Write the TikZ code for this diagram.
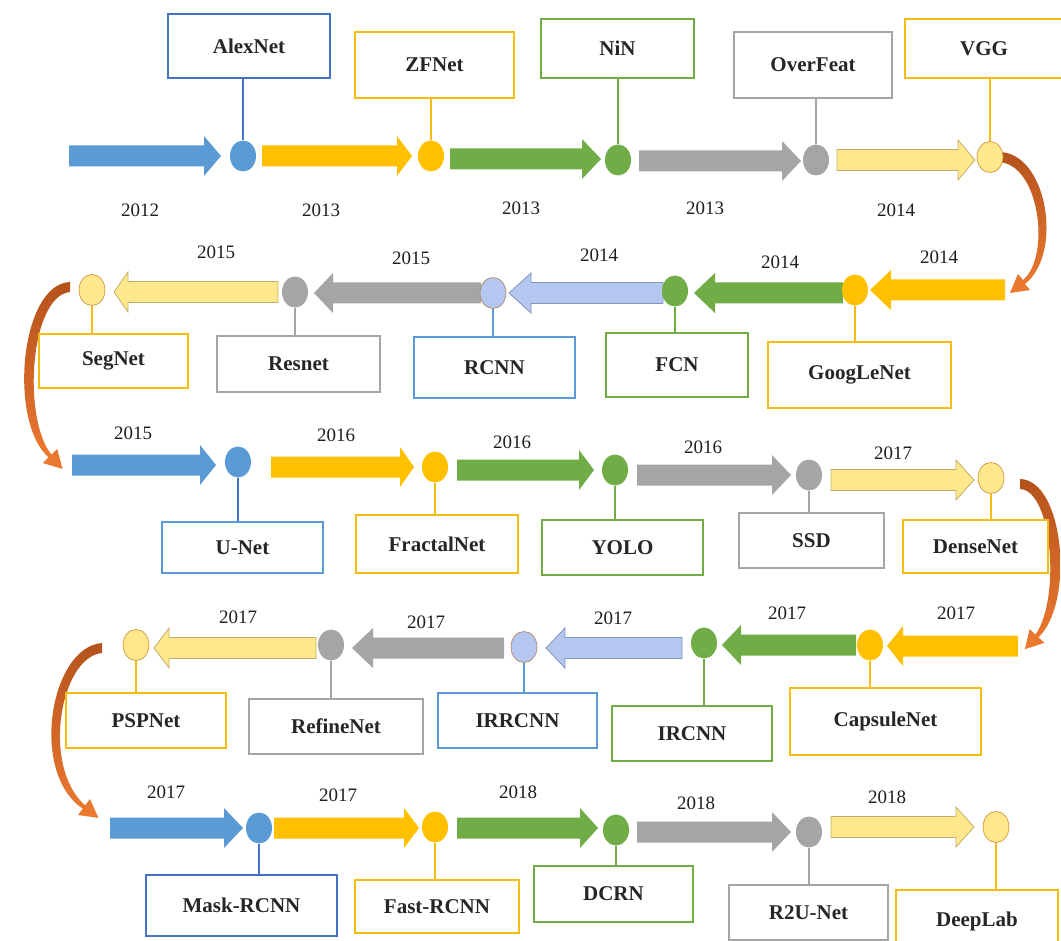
\documentclass[tikz,border=0pt]{standalone}
\usepackage{fontspec}
\setmainfont{Liberation Serif}
\usetikzlibrary{shapes.geometric}

\definecolor{cblue}{HTML}{5B9BD5}
\definecolor{cblueD}{HTML}{4472C4}
\definecolor{cgold}{HTML}{FFC000}
\definecolor{cgoldD}{HTML}{F5BC12}
\definecolor{cgreen}{HTML}{70AD47}
\definecolor{cgray}{HTML}{A5A5A5}
\definecolor{clyel}{HTML}{FFE88C}
\definecolor{clyelD}{HTML}{EDD060}
\definecolor{clblue}{HTML}{B4C7F0}
\definecolor{clblueD}{HTML}{8FAADC}
\definecolor{corangeD}{HTML}{B4521C}
\definecolor{corange}{HTML}{EE7A30}

\tikzset{
  netbox/.style={rectangle, draw=#1, line width=2.4pt, fill=white, inner sep=0pt,
    font=\fontsize{21}{24}\selectfont\bfseries, text=black!85},
  dot/.style={ellipse, inner sep=0pt, minimum width=26pt, minimum height=31pt, fill=#1},
  ldot/.style={dot=#1, draw=#1!70!black!60!orange, line width=0.7pt},
  stem/.style={draw=#1, line width=2.4pt},
  year/.style={font=\fontsize{19}{22}\selectfont, text=black!88},
  arr/.style={fill=#1},
  larr/.style={fill=#1, draw=#1!75!black, line width=0.8pt},
  turnarrow/.style={top color=corangeD, bottom color=corange, draw=none}
}

% box from x1..x2, y1..y2 (pixel units, y downwards)
\newcommand{\mkbox}[7]{%
  \pgfmathsetmacro{\bxw}{#4-#3}\pgfmathsetmacro{\bxh}{#6-#5}%
  \pgfmathsetmacro{\bxx}{(#3+#4)/2}\pgfmathsetmacro{\bxy}{(#5+#6)/2}%
  \node[netbox=#2, minimum width=\bxw pt, minimum height=\bxh pt] (#1) at (\bxx,\bxy) {#7};}

% block arrow: style, tail x, head base x, tip x, centre y
\newcommand{\blkarrow}[5]{%
  \path[#1] (#2,{#5-10.5}) -- (#3,{#5-10.5}) -- (#3,{#5-20}) -- (#4,#5)
    -- (#3,{#5+20}) -- (#3,{#5+10.5}) -- (#2,{#5+10.5}) -- cycle;}

\begin{document}
\begin{tikzpicture}[x=1pt, y=-1pt]
\useasboundingbox[fill=white] (0,0) rectangle (1061,941);

% ---------- curved turn arrows between rows ----------
\shade[turnarrow] (998,152) .. controls (1047,151) and (1064,253) .. (1025,284)
  -- (1030,290) -- (1010,293) -- (1018,274) -- (1023,280)
  .. controls (1051,257) and (1040,163) .. (998,162) -- cycle;
\shade[turnarrow] (70,282) .. controls (20,284) and (8,422) .. (48.6,457.4)
  -- (42.8,463) -- (62.6,469) -- (57.2,449) -- (51.4,454.6)
  .. controls (22,418) and (30,296) .. (70,292) -- cycle;
\shade[turnarrow] (1020,479) .. controls (1064,480) and (1075,602) .. (1038.5,637.4)
  -- (1044.4,642.8) -- (1024.8,649.3) -- (1029.6,629.2) -- (1035.5,634.6)
  .. controls (1061,598) and (1052,490) .. (1020,489) -- cycle;
\shade[turnarrow] (102,643) .. controls (50,647) and (29,773) .. (82.8,808.6)
  -- (78,815) -- (98.4,817.9) -- (90,799) -- (85.2,805.4)
  .. controls (41,767) and (60,657) .. (102,653) -- cycle;

% ---------- block arrows ----------
% row 1
\blkarrow{arr=cblue}{69}{204}{221}{156}
\blkarrow{arr=cgold}{262}{397}{412}{156}
\blkarrow{arr=cgreen}{450}{582}{601}{159}
\blkarrow{arr=cgray}{639}{782}{801}{161}
\blkarrow{larr=clyel}{837}{958}{975}{160}
% row 2
\blkarrow{arr=cgold}{1005}{891}{870}{290}
\blkarrow{arr=cgreen}{843}{715}{694}{293}
\blkarrow{larr=clblue}{663}{531}{509}{293}
\blkarrow{arr=cgray}{481}{333}{314}{293}
\blkarrow{larr=clyel}{278}{128}{114}{292}
% row 3
\blkarrow{arr=cblue}{72}{200}{216}{465}
\blkarrow{arr=cgold}{271}{400}{414}{467}
\blkarrow{arr=cgreen}{457}{579}{594}{470}
\blkarrow{arr=cgray}{637}{772}{791}{475}
\blkarrow{larr=clyel}{831}{956}{974}{480}
% row 4
\blkarrow{arr=cgold}{1018}{903}{887}{646}
\blkarrow{arr=cgreen}{856}{741}{722}{645}
\blkarrow{larr=clblue}{682}{565}{546}{648}
\blkarrow{arr=cgray}{504}{373}{352}{648}
\blkarrow{larr=clyel}{316}{169}{154}{648}
% row 5
\blkarrow{arr=cblue}{110}{224}{243}{828}
\blkarrow{arr=cgold}{274}{404}{419}{828}
\blkarrow{arr=cgreen}{457}{580}{598}{828}
\blkarrow{arr=cgray}{637}{772}{791}{832}
\blkarrow{larr=clyel}{831}{956}{974}{827}

% ---------- milestone dots ----------
\node[dot=cblue]   (alexC)  at (243,156) {};
\node[dot=cgold]   (zfC)    at (431,156) {};
\node[dot=cgreen]  (ninC)   at (618,160) {};
\node[dot=cgray]   (ofC)    at (816,160) {};
\node[ldot=clyel]  (vggC)   at (990,157) {};

\node[dot=cgold]   (gooC)   at (855,290) {};
\node[dot=cgreen]  (fcnC)   at (675,291) {};
\node[ldot=clblue] (rcnnC)  at (493,293) {};
\node[dot=cgray]   (resC)   at (295,292) {};
\node[ldot=clyel]  (segC)   at (92,290) {};

\node[dot=cblue]   (unetC)  at (238,462) {};
\node[dot=cgold]   (fracC)  at (435,467) {};
\node[dot=cgreen]  (yoloC)  at (615,470) {};
\node[dot=cgray]   (ssdC)   at (809,475) {};
\node[ldot=clyel]  (denseC) at (991,478) {};

\node[dot=cgold]   (capC)   at (870,645) {};
\node[dot=cgreen]  (ircC)   at (704,643) {};
\node[ldot=clblue] (irrC)   at (524,647) {};
\node[dot=cgray]   (refC)   at (331,645) {};
\node[ldot=clyel]  (pspC)   at (136,645) {};

\node[dot=cblue]   (maskC)  at (259,828) {};
\node[dot=cgold]   (fastC)  at (435,827) {};
\node[dot=cgreen]  (dcrnC)  at (616,830) {};
\node[dot=cgray]   (r2uC)   at (809,832) {};
\node[ldot=clyel]  (deepC)  at (996,827) {};

% ---------- network boxes ----------
\mkbox{alex}{cblueD}{168}{330}{14}{78}{AlexNet}
\mkbox{zf}{cgoldD}{355}{514}{32}{98}{ZFNet}
\mkbox{nin}{cgreen}{541}{694}{19}{78}{NiN}
\mkbox{of}{cgray}{734}{892}{32}{98}{OverFeat}
\mkbox{vgg}{cgoldD}{905}{1063}{19}{78}{VGG}

\mkbox{goo}{cgoldD}{768}{951}{342}{408}{GoogLeNet}
\mkbox{fcn}{cgreen}{606}{748}{333}{397}{FCN}
\mkbox{rcnn}{cblue}{414}{575}{337}{398}{RCNN}
\mkbox{res}{cgray}{217}{380}{336}{392}{Resnet}
\mkbox{seg}{cgoldD}{39}{188}{334}{388}{SegNet}

\mkbox{unet}{cblue}{162}{323}{522}{573}{U-Net}
\mkbox{frac}{cgoldD}{356}{518}{515}{573}{FractalNet}
\mkbox{yolo}{cgreen}{542}{703}{520}{575}{YOLO}
\mkbox{ssd}{cgray}{739}{884}{513}{568}{SSD}
\mkbox{dense}{cgoldD}{903}{1048}{520}{573}{DenseNet}

\mkbox{cap}{cgoldD}{790}{981}{688}{755}{CapsuleNet}
\mkbox{irc}{cgreen}{612}{772}{706}{761}{IRCNN}
\mkbox{irr}{cblue}{438}{597}{693}{748}{IRRCNN}
\mkbox{ref}{cgray}{249}{423}{699}{754}{RefineNet}
\mkbox{psp}{cgoldD}{66}{226}{693}{748}{PSPNet}

\mkbox{mask}{cblueD}{146}{337}{875}{936}{Mask-RCNN}
\mkbox{fast}{cgoldD}{355}{519}{880}{933}{Fast-RCNN}
\mkbox{dcrn}{cgreen}{534}{693}{866}{922}{DCRN}
\mkbox{r2u}{cgray}{729}{888}{885}{940}{R2U-Net}
\mkbox{deep}{cgoldD}{896}{1058}{890}{952}{DeepLab}

% ---------- stems from dots to boxes ----------
\draw[stem=cblueD] (alexC) -- (alexC |- alex.south);
\draw[stem=cgoldD] (zfC) -- (zfC |- zf.south);
\draw[stem=cgreen] (ninC) -- (ninC |- nin.south);
\draw[stem=cgray]  (ofC) -- (ofC |- of.south);
\draw[stem=cgoldD] (vggC) -- (vggC |- vgg.south);

\draw[stem=cgoldD] (gooC) -- (gooC |- goo.north);
\draw[stem=cgreen] (fcnC) -- (fcnC |- fcn.north);
\draw[stem=cblue]  (rcnnC) -- (rcnnC |- rcnn.north);
\draw[stem=cgray]  (resC) -- (resC |- res.north);
\draw[stem=cgoldD] (segC) -- (segC |- seg.north);

\draw[stem=cblueD] (unetC) -- (unetC |- unet.north);
\draw[stem=cgoldD] (fracC) -- (fracC |- frac.north);
\draw[stem=cgreen] (yoloC) -- (yoloC |- yolo.north);
\draw[stem=cgray]  (ssdC) -- (ssdC |- ssd.north);
\draw[stem=cgoldD] (denseC) -- (denseC |- dense.north);

\draw[stem=cgoldD] (capC) -- (capC |- cap.north);
\draw[stem=cgreen] (ircC) -- (ircC |- irc.north);
\draw[stem=cblue]  (irrC) -- (irrC |- irr.north);
\draw[stem=cgray]  (refC) -- (refC |- ref.north);
\draw[stem=cgoldD] (pspC) -- (pspC |- psp.north);

\draw[stem=cblueD] (maskC) -- (maskC |- mask.north);
\draw[stem=cgoldD] (fastC) -- (fastC |- fast.north);
\draw[stem=cgreen] (dcrnC) -- (dcrnC |- dcrn.north);
\draw[stem=cgray]  (r2uC) -- (r2uC |- r2u.north);
\draw[stem=cgoldD] (deepC) -- (deepC |- deep.north);

% ---------- years ----------
\node[year] (y01) at (140,210) {2012};
\node[year] (y02) at (321,210) {2013};
\node[year] (y03) at (521,208) {2013};
\node[year] (y04) at (705,208) {2013};
\node[year] (y05) at (896,210) {2014};

\node[year] (y06) at (216,252) {2015};
\node[year] (y07) at (411,258) {2015};
\node[year] (y08) at (599,255) {2014};
\node[year] (y09) at (780,262) {2014};
\node[year] (y10) at (939,257) {2014};

\node[year] (y11) at (133,433) {2015};
\node[year] (y12) at (336,435) {2016};
\node[year] (y13) at (512,442) {2016};
\node[year] (y14) at (703,447) {2016};
\node[year] (y15) at (893,453) {2017};

\node[year] (y16) at (238,617) {2017};
\node[year] (y17) at (426,622) {2017};
\node[year] (y18) at (613,618) {2017};
\node[year] (y19) at (787,613) {2017};
\node[year] (y20) at (956,613) {2017};

\node[year] (y21) at (166,792) {2017};
\node[year] (y22) at (338,795) {2017};
\node[year] (y23) at (518,792) {2018};
\node[year] (y24) at (696,803) {2018};
\node[year] (y25) at (887,797) {2018};
\end{tikzpicture}
\end{document}
